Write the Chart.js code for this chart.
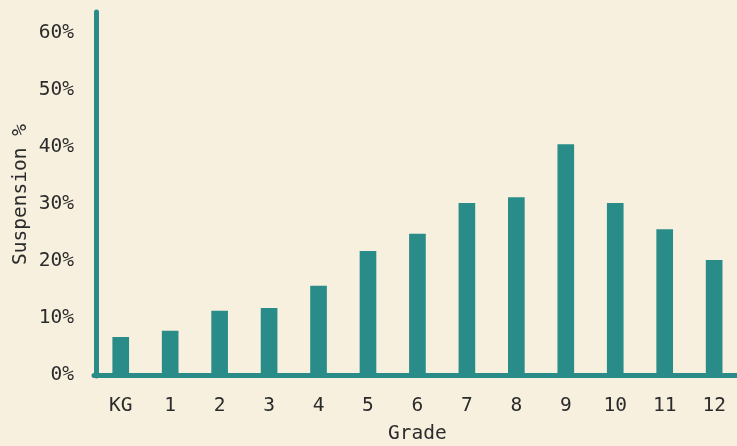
<!DOCTYPE html>
<html>
<head>
<meta charset="utf-8">
<script src="https://cdn.jsdelivr.net/npm/chart.js@4"></script>
<style>
  html, body { margin: 0; padding: 0; background: #f7f0df; overflow: hidden; }
  #wrap { width: 745px; height: 446px; position: relative; }
</style>
</head>
<body>
<div id="wrap"><canvas id="c"></canvas></div>
<script>
const grades = ["KG", "1", "2", "3", "4", "5", "6", "7", "8", "9", "10", "11", "12"];
const suspensionPct = [6.6, 7.7, 11.2, 11.7, 15.6, 21.7, 24.7, 30.1, 31.1, 40.4, 30.1, 25.5, 20.1];
const yTicks = [0, 10, 20, 30, 40, 50, 60];
const yMax = 63.3;

const teal = "#2a8c88";
const textColor = "#2b2b2b";
const fontFamily = "'DejaVu Sans Mono', monospace";
const fontSize = 19.5;

const roundCaps = {
  id: "roundCaps",
  beforeDraw(chart) { chart.ctx.lineCap = "round"; }
};

new Chart(document.getElementById("c"), {
  type: "bar",
  data: {
    labels: grades,
    datasets: [{
      data: suspensionPct,
      backgroundColor: teal,
      borderWidth: 0,
      barThickness: 16
    }]
  },
  plugins: [roundCaps],
  options: {
    responsive: true,
    maintainAspectRatio: false,
    animation: false,
    layout: { padding: { top: 14, right: 3, left: 9, bottom: 0 } },
    plugins: { legend: { display: false }, tooltip: { enabled: false } },
    scales: {
      x: {
        offset: true,
        grid: { display: false, drawTicks: false },
        border: { display: true, color: teal, width: 5 },
        ticks: { color: textColor, font: { family: fontFamily, size: fontSize }, padding: 19, maxRotation: 0 },
        title: { display: true, text: "Grade", color: textColor, font: { family: fontFamily, size: fontSize }, padding: { top: 4, bottom: 0 } },
        afterFit(scale) { scale.height = 71; }
      },
      y: {
        min: 0,
        max: yMax,
        grid: { display: false, drawTicks: false },
        border: { display: true, color: teal, width: 5 },
        ticks: {
          color: textColor,
          font: { family: fontFamily, size: fontSize },
          padding: 22,
          callback: v => v + "%"
        },
        afterBuildTicks(scale) { scale.ticks = yTicks.map(v => ({ value: v })); },
        title: { display: true, text: "Suspension %", color: textColor, font: { family: fontFamily, size: fontSize }, padding: { top: 0, bottom: 0 } },
        afterFit(scale) { scale.width = 87; scale.paddingTop = 0; }
      }
    }
  }
});
</script>
</body>
</html>
